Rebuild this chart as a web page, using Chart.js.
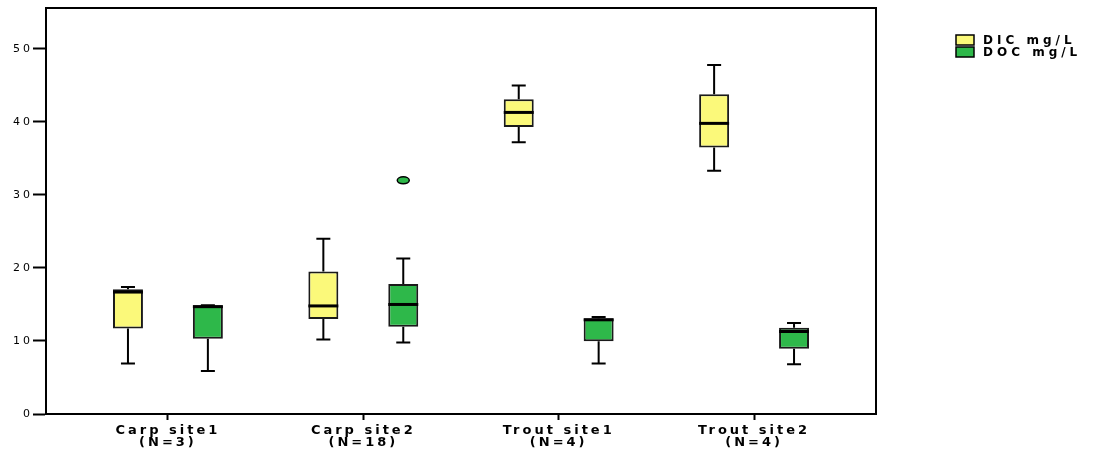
<!DOCTYPE html>
<html>
<head>
<meta charset="utf-8">
<script src="https://cdn.jsdelivr.net/npm/chart.js@4.4.0/dist/chart.umd.min.js"></script>
<style>
  html, body { margin: 0; padding: 0; background: #fff; }
</style>
</head>
<body>
<canvas id="boxChart" width="1096" height="450"></canvas>
<script>
// categories and box statistics
const siteNames = ['Carp site1', 'Carp site2', 'Trout site1', 'Trout site2'];
const siteN = ['(N=3)', '(N=18)', '(N=4)', '(N=4)'];
const yTicks = [0, 10, 20, 30, 40, 50];

const dicMin = [6.9, 10.2, 37.2, 33.3];
const dicQ1 = [11.7, 13.0, 39.3, 36.5];
const dicMed = [16.7, 14.8, 41.3, 39.8];
const dicQ3 = [17.1, 19.5, 43.1, 43.8];
const dicMax = [17.4, 24.0, 45.0, 47.8];
const dicOut = [[], [], [], []];

const docMin = [5.9, 9.8, 6.9, 6.8];
const docQ1 = [10.3, 11.95, 9.95, 8.95];
const docMed = [14.7, 15.0, 12.9, 11.3];
const docQ3 = [14.9, 17.8, 13.1, 11.8];
const docMax = [14.9, 21.3, 13.3, 12.45];
const docOut = [[], [32.0], [], []];

const font = '"DejaVu Sans", sans-serif';

function boxData(q1, q3) {
  return q1.map((v, i) => ({ x: i, y: [v, q3[i]] }));
}

const boxExtras = {
  id: 'boxExtras',
  beforeDraw(chart) {
    // the original axis text is drawn wide and spaced out
    chart.ctx.letterSpacing = '3px';
  },
  afterDatasetsDraw(chart) {
    const ctx = chart.ctx;
    const yScale = chart.scales.y;
    ctx.save();
    ctx.strokeStyle = '#000';
    chart.data.datasets.forEach((ds, d) => {
      const meta = chart.getDatasetMeta(d);
      meta.data.forEach((bar, i) => {
        const x = bar.x;
        const half = bar.width / 2;
        const pMin = yScale.getPixelForValue(ds.stats.min[i]);
        const pMax = yScale.getPixelForValue(ds.stats.max[i]);
        const pQ1 = yScale.getPixelForValue(ds.data[i].y[0]);
        const pQ3 = yScale.getPixelForValue(ds.data[i].y[1]);
        const pMed = yScale.getPixelForValue(ds.stats.med[i]);

        // whiskers
        ctx.lineWidth = 2;
        ctx.beginPath();
        ctx.moveTo(x, pQ3); ctx.lineTo(x, pMax);
        ctx.moveTo(x - 7, pMax); ctx.lineTo(x + 7, pMax);
        ctx.moveTo(x, pQ1); ctx.lineTo(x, pMin);
        ctx.moveTo(x - 7, pMin); ctx.lineTo(x + 7, pMin);
        ctx.stroke();

        // median
        ctx.lineWidth = 3;
        ctx.beginPath();
        ctx.moveTo(x - half, pMed); ctx.lineTo(x + half, pMed);
        ctx.stroke();

        // outliers
        ds.stats.out[i].forEach((v) => {
          const py = yScale.getPixelForValue(v);
          ctx.beginPath();
          ctx.ellipse(x, py, 6, 3.5, 0, 0, Math.PI * 2);
          ctx.fillStyle = ds.backgroundColor;
          ctx.fill();
          ctx.lineWidth = 1.5;
          ctx.stroke();
        });
      });
    });
    ctx.restore();
  },
  afterDraw(chart) {
    const ctx = chart.ctx;
    const area = chart.chartArea;
    ctx.save();
    // frame
    ctx.strokeStyle = '#000';
    ctx.lineWidth = 2;
    ctx.strokeRect(area.left, area.top, area.right - area.left, area.bottom - area.top);

    // legend
    const lx = area.right + 80;
    ctx.font = 'bold 12px ' + font;
    ctx.letterSpacing = '4px';
    ctx.textBaseline = 'middle';
    chart.data.datasets.forEach((ds, d) => {
      const ly = area.top + 27 + d * 12;
      ctx.fillStyle = ds.backgroundColor;
      ctx.fillRect(lx, ly, 18, 10);
      ctx.lineWidth = 1.5;
      ctx.strokeRect(lx, ly, 18, 10);
      ctx.fillStyle = '#000';
      ctx.fillText(ds.label, lx + 27, ly + 6);
    });
    ctx.restore();
  }
};

new Chart(document.getElementById('boxChart'), {
  type: 'bar',
  data: {
    datasets: [
      {
        label: 'DIC mg/L',
        data: boxData(dicQ1, dicQ3),
        stats: { min: dicMin, med: dicMed, max: dicMax, out: dicOut },
        backgroundColor: '#FBF97A',
        borderColor: '#1a1a1a',
        borderWidth: 2,
        borderSkipped: false,
        categoryPercentage: 0.818,
        barPercentage: 0.375,
      },
      {
        label: 'DOC mg/L',
        data: boxData(docQ1, docQ3),
        stats: { min: docMin, med: docMed, max: docMax, out: docOut },
        backgroundColor: '#2EB84A',
        borderColor: '#1a1a1a',
        borderWidth: 2,
        borderSkipped: false,
        categoryPercentage: 0.818,
        barPercentage: 0.375,
      },
    ],
  },
  options: {
    responsive: false,
    animation: false,
    layout: { padding: { top: 8, right: 220, left: 0, bottom: 0 } },
    plugins: {
      legend: { display: false },
      tooltip: { enabled: false },
    },
    scales: {
      x: {
        type: 'linear',
        offset: false,
        min: -0.624,
        max: 3.624,
        afterBuildTicks: (scale) => {
          scale.ticks = siteNames.map((_, i) => ({ value: i }));
        },
        afterFit: (scale) => { scale.height = 36; },
        grid: {
          offset: false,
          drawOnChartArea: false,
          tickLength: 6,
          tickColor: '#000',
          tickWidth: 2,
        },
        border: { color: '#000', width: 2 },
        ticks: {
          padding: 5,
          color: '#000',
          maxRotation: 0,
          autoSkip: false,
          font: { family: font, size: 13, weight: 'bold', lineHeight: 0.92 },
          callback: (v) => [siteNames[v], siteN[v]],
        },
      },
      y: {
        min: 0,
        max: 55.6,
        afterBuildTicks: (scale) => {
          scale.ticks = yTicks.map((v) => ({ value: v }));
        },
        afterFit: (scale) => { scale.width = 46; },
        grid: {
          drawOnChartArea: false,
          tickLength: 13,
          tickColor: '#000',
          tickWidth: 2,
        },
        border: { color: '#000', width: 2 },
        ticks: {
          padding: 0,
          color: '#000',
          font: { family: font, size: 11 },
        },
      },
    },
  },
  plugins: [boxExtras],
});
</script>
</body>
</html>
